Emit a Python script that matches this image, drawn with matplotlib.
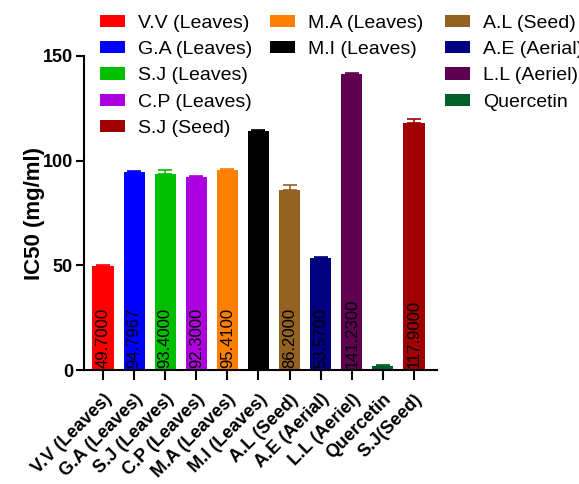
import numpy as np
import matplotlib
matplotlib.use('Agg')
import matplotlib.pyplot as plt
from matplotlib.patches import Patch

plt.rcParams['font.family'] = ['Liberation Sans', 'DejaVu Sans']

# Data
categories = ['V.V (Leaves)', 'G.A (Leaves)', 'S.J (Leaves)', 'C.P (Leaves)', 'M.A (Leaves)',
              'M.I (Leaves)', 'A.L (Seed)', 'A.E (Aerial)', 'L.L (Aeriel)', 'Quercetin', 'S.J(Seed)']
ic50 = [49.70, 94.7967, 93.40, 92.30, 95.41, 114.0, 86.20, 53.57, 141.23, 2.0, 117.90]
errors = [0.5, 0.4, 2.0, 0.4, 0.4, 0.8, 2.2, 0.6, 0.6, 0.5, 2.0]
value_labels = ['49.7000', '94.7967', '93.4000', '92.3000', '95.4100', '', '86.2000',
                '53.5700', '141.2300', '', '117.9000']
colors = ['#ff0000', '#0000ff', '#00bf00', '#ad00e0', '#ff8000', '#000000',
          '#946220', '#000080', '#600050', '#005f28', '#a00000']

legend_names = ['V.V (Leaves)', 'G.A (Leaves)', 'S.J (Leaves)', 'C.P (Leaves)', 'S.J (Seed)',
                'M.A (Leaves)', 'M.I (Leaves)',
                'A.L (Seed)', 'A.E (Aerial)', 'L.L (Aeriel)', 'Quercetin']
legend_colors = ['#ff0000', '#0000ff', '#00bf00', '#ad00e0', '#a00000',
                 '#ff8000', '#000000',
                 '#946220', '#000080', '#600050', '#005f28']

fig = plt.figure(figsize=(5.79, 4.84), dpi=100)
ax = fig.add_axes([0.1451, 0.2355, 0.6097, 0.6488])

x = np.arange(len(categories))
ax.bar(x, ic50, width=0.68, color=colors)
for i in range(len(x)):
    ax.errorbar(x[i], ic50[i], yerr=[[0], [errors[i]]], color=colors[i],
                capsize=5, elinewidth=1.2, capthick=1.2, fmt='none')
    if value_labels[i]:
        ax.text(x[i], 1.0, value_labels[i], rotation=90, ha='center', va='bottom',
                fontsize=12, color='black')

ax.set_xlim(-0.61, 10.74)
ax.set_ylim(0, 150)
ax.set_yticks([0, 50, 100, 150])
ax.set_xticks(x)
ax.set_xticklabels(categories, rotation=45, ha='right', va='top',
                   rotation_mode='anchor', fontsize=13, fontweight='bold')
for lbl in ax.get_yticklabels():
    lbl.set_fontsize(13)
    lbl.set_fontweight('bold')
ax.set_ylabel('IC50 (mg/ml)', fontsize=16, fontweight='bold', labelpad=-2)

ax.spines['top'].set_visible(False)
ax.spines['right'].set_visible(False)
ax.spines['left'].set_linewidth(1.5)
ax.spines['bottom'].set_linewidth(1.5)
ax.tick_params(axis='y', length=6, width=1.5, pad=2)
ax.tick_params(axis='x', length=7, width=1.5, pad=8)

# three legend columns, placed like the original
groups = [(0, 5, 0.1727), (5, 7, 0.4663), (7, 11, 0.7686)]
for start, stop, left in groups:
    handles = [Patch(facecolor=legend_colors[k], label=legend_names[k])
               for k in range(start, stop)]
    leg = fig.legend(handles=handles, loc='upper left', bbox_to_anchor=(left, 0.97),
                     frameon=False, fontsize=14, borderpad=0, borderaxespad=0,
                     handlelength=1.3, handleheight=0.6, handletextpad=0.65,
                     labelspacing=0.48)

fig.savefig('out.png', dpi=100)
